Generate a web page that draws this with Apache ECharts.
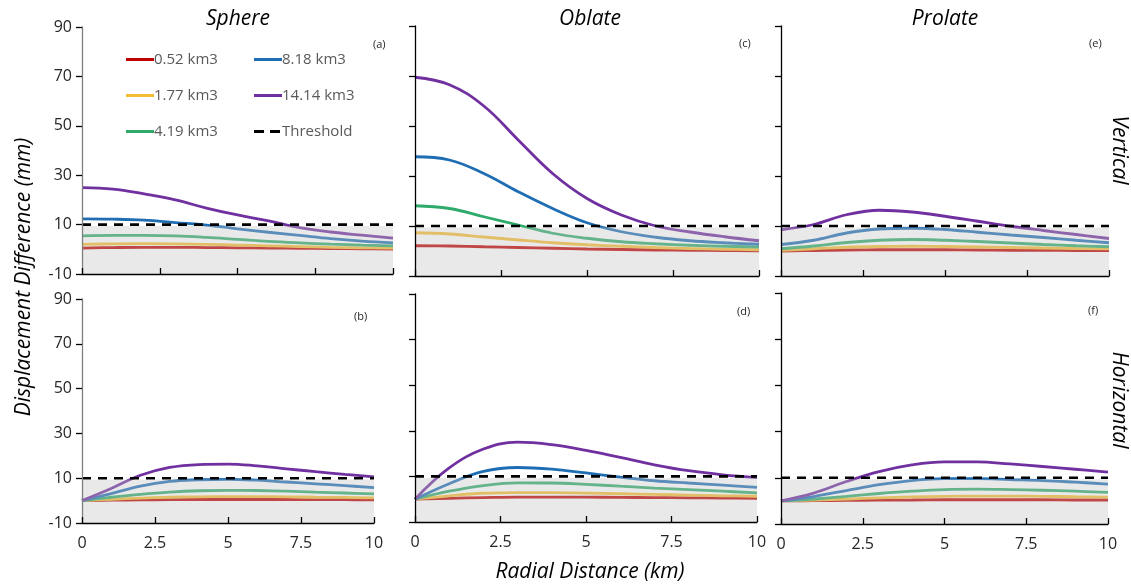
<!DOCTYPE html>
<html>
<head>
<meta charset="utf-8">
<script src="https://cdn.jsdelivr.net/npm/echarts@6/dist/echarts.min.js"></script>
<style>
  html, body { margin: 0; padding: 0; background: #fff; }
  #chart { width: 1131px; height: 586px; }
</style>
</head>
<body>
<div id="chart"></div>
<script>
// radial distance (km)
const xs = [0, 1, 2, 3, 4, 5, 6, 7, 8, 9, 10]
const volumes = ['0.52 km3', '1.77 km3', '4.19 km3', '8.18 km3', '14.14 km3']
const colors = ['#C00000', '#F4BE32', '#2EAA6A', '#1F6EB4', '#7030A0']
const threshold = 10

// one row per volume, same order as volumes
const sphereVertical = [
  [0.5, 0.7, 0.8, 0.8, 0.7, 0.6, 0.5, 0.4, 0.3, 0.2, 0.1],
  [2.0, 2.2, 2.3, 2.2, 2.0, 1.7, 1.4, 1.1, 0.8, 0.6, 0.5],
  [5.4, 5.6, 5.6, 5.4, 4.8, 4.0, 3.2, 2.6, 2.1, 1.7, 1.4],
  [12.3, 12.2, 11.8, 10.8, 9.8, 8.3, 6.9, 5.6, 4.3, 3.3, 2.6],
  [25, 24.4, 22.4, 20, 16.7, 13.9, 11.5, 8.8, 7, 5.7, 4.5]
]
const oblateVertical = [
  [2.1, 2.0, 1.7, 1.4, 1.1, 0.8, 0.6, 0.4, 0.3, 0.2, 0.1],
  [7.3, 6.8, 5.6, 4.4, 3.3, 2.5, 1.9, 1.4, 1.0, 0.7, 0.5],
  [18.1, 17, 13.7, 10.4, 7.1, 5.1, 3.7, 2.9, 2.3, 1.9, 1.6],
  [37.7, 36.4, 31, 23.7, 17, 11.3, 7.7, 5.5, 4.1, 3.3, 2.7],
  [69.5, 66.5, 58, 44.4, 31, 21, 14.4, 10, 7.6, 5.7, 4.1]
]
const prolateVertical = [
  [0, 0.2, 0.4, 0.5, 0.5, 0.5, 0.4, 0.3, 0.3, 0.2, 0.2],
  [0.3, 0.9, 1.5, 1.8, 1.9, 1.8, 1.6, 1.4, 1.2, 1.0, 0.9],
  [0.9, 2, 3.4, 4.3, 4.6, 4.3, 3.8, 3.2, 2.6, 2.1, 1.7],
  [2.6, 4.3, 7.2, 8.8, 9.1, 8.6, 7.5, 6.4, 5.4, 4.3, 3.3],
  [8.5, 10.6, 14.5, 16.3, 15.6, 13.9, 11.9, 9.9, 8.2, 6.6, 5]
]
const sphereHorizontal = [
  [0, 0.2, 0.3, 0.4, 0.5, 0.5, 0.5, 0.5, 0.4, 0.4, 0.3],
  [0, 0.6, 1.1, 1.5, 1.7, 1.8, 1.8, 1.7, 1.5, 1.4, 1.2],
  [0, 1.5, 2.8, 3.8, 4.4, 4.6, 4.5, 4.2, 3.8, 3.4, 3],
  [0, 3.1, 6.5, 8.6, 9.3, 9.5, 9.1, 8.3, 7.5, 6.7, 5.8],
  [0, 5.4, 11.3, 14.8, 16.1, 16.3, 15.5, 14.2, 12.9, 11.7, 10.6]
]
const oblateHorizontal = [
  [0, 0.4, 0.7, 0.9, 0.9, 0.9, 0.8, 0.7, 0.6, 0.5, 0.4],
  [0, 1.5, 2.6, 2.9, 2.9, 2.7, 2.4, 2.1, 1.8, 1.5, 1.3],
  [0, 3.5, 6, 7.2, 7.1, 6.5, 5.7, 4.9, 4.2, 3.5, 2.8],
  [0, 6.8, 12.2, 13.9, 13.2, 11.5, 9.7, 8.1, 7.1, 6.2, 5.2],
  [0, 13.7, 22, 25, 23.9, 21.4, 18.3, 15.1, 12.5, 10.7, 9.5]
]
const prolateHorizontal = [
  [0, 0.1, 0.2, 0.3, 0.4, 0.5, 0.5, 0.5, 0.5, 0.4, 0.4],
  [0, 0.3, 0.8, 1.3, 1.7, 2, 2.1, 2.1, 2, 1.8, 1.6],
  [0, 0.8, 2, 3.2, 4.2, 4.9, 5.1, 4.9, 4.6, 4.2, 3.7],
  [0, 1.9, 4.5, 7, 8.8, 9.6, 9.6, 9.2, 8.8, 8.1, 7.3],
  [0, 3.4, 8.4, 12.7, 15.6, 16.9, 16.9, 16, 14.9, 13.7, 12.5]
]

const panels = [
  { data: sphereVertical, tag: '(a)', grid: { left: 82, top: 27, width: 311, height: 247 }, yLabels: true, xLabels: false, yColor: '#7f7f7f' },
  { data: oblateVertical, tag: '(c)', grid: { left: 415, top: 26, width: 344, height: 250 }, yLabels: false, xLabels: false, yColor: '#000' },
  { data: prolateVertical, tag: '(e)', grid: { left: 781, top: 26, width: 328, height: 250 }, yLabels: false, xLabels: false, yColor: '#000' },
  { data: sphereHorizontal, tag: '(b)', grid: { left: 82, top: 299, width: 292, height: 224 }, yLabels: true, xLabels: true, yColor: '#7f7f7f' },
  { data: oblateHorizontal, tag: '(d)', grid: { left: 415, top: 294, width: 342, height: 228 }, yLabels: false, xLabels: true, yColor: '#000' },
  { data: prolateHorizontal, tag: '(f)', grid: { left: 781, top: 293, width: 327, height: 231 }, yLabels: false, xLabels: true, yColor: '#000' }
]

const font = '"Open Sans", "Noto Sans", sans-serif'

const chart = echarts.init(document.getElementById('chart'))

const grids = []
const xAxes = []
const yAxes = []
const series = []
const graphics = []

panels.forEach((p, i) => {
  grids.push(Object.assign({ containLabel: false }, p.grid))
  xAxes.push({
    type: 'value', gridIndex: i, min: 0, max: 10, interval: 2.5, z: 6,
    splitLine: { show: false },
    axisLine: { onZero: false, lineStyle: { color: '#000', width: 1.3 } },
    axisTick: { inside: true, length: 6, lineStyle: { color: '#000', width: 1.3 } },
    axisLabel: { show: p.xLabels, fontSize: 16, color: '#262626', fontFamily: font, margin: 12,
      formatter: v => String(v) }
  })
  yAxes.push({
    type: 'value', gridIndex: i, min: -10, max: 90, interval: 20, z: 6,
    splitLine: { show: false },
    axisLine: { show: true, onZero: false, lineStyle: { color: p.yColor, width: 1.3 } },
    axisTick: { show: true, length: 6, lineStyle: { color: '#000', width: 1.3 } },
    axisLabel: { show: p.yLabels, fontSize: 16, color: '#262626', fontFamily: font, margin: 10 }
  })

  p.data.forEach((vals, j) => {
    series.push({
      name: volumes[j], type: 'line', xAxisIndex: i, yAxisIndex: i,
      smooth: 0.4, symbol: 'none', z: 2,
      lineStyle: { color: colors[j], width: 2.8 },
      itemStyle: { color: colors[j] },
      data: xs.map((x, k) => [x, vals[k]])
    })
  })

  // grey shading below the threshold, drawn over the lines
  series.push({
    name: 'shade', type: 'line', xAxisIndex: i, yAxisIndex: i,
    symbol: 'none', z: 3, silent: true,
    lineStyle: { width: 0 },
    areaStyle: { color: 'rgba(195,195,195,0.52)', origin: 'start' },
    data: [[0, threshold - 0.6], [10, threshold - 0.6]]
  })

  series.push({
    name: 'Threshold', type: 'line', xAxisIndex: i, yAxisIndex: i,
    symbol: 'none', z: 4,
    lineStyle: { color: '#000', width: 2.6, type: [9, 7] },
    itemStyle: { color: '#000' },
    data: [[0, threshold], [10, threshold]]
  })

  const g = p.grid
  graphics.push({
    type: 'text', left: g.left + g.width - 20, top: g.top + 12,
    style: { text: p.tag, font: '11px ' + font, fill: '#262626' }
  })
})

const solidIcon = 'path://M0,0h28v3h-28z'
const dashIcon = 'path://M0,0h10v3h-10z M16,0h10v3h-10z M28,0h0v3h0z'

const legendCommon = {
  orient: 'vertical', itemWidth: 28, itemHeight: 3, itemGap: 21,
  textStyle: { fontSize: 15, color: '#595959', fontFamily: font, padding: [0, 0, 0, -5] }
}

const titles = [['Sphere', 238], ['Oblate', 590], ['Prolate', 945]]
titles.forEach(([t, x]) => {
  graphics.push({
    type: 'text', x: x, y: 19,
    style: { text: t, font: 'italic 21px ' + font, fill: '#000', align: 'center', verticalAlign: 'middle' }
  })
})
graphics.push({
  type: 'text', x: 590, y: 572,
  style: { text: 'Radial Distance (km)', font: 'italic 21px ' + font, fill: '#000', align: 'center', verticalAlign: 'middle' }
})
graphics.push({
  type: 'text', x: 24, y: 277, rotation: Math.PI / 2,
  style: { text: 'Displacement Difference (mm)', font: 'italic 21px ' + font, fill: '#000', align: 'center', verticalAlign: 'middle' }
})
graphics.push({
  type: 'text', x: 1119, y: 150, rotation: -Math.PI / 2,
  style: { text: 'Vertical', font: 'italic 21px ' + font, fill: '#000', align: 'center', verticalAlign: 'middle' }
})
graphics.push({
  type: 'text', x: 1119, y: 400, rotation: -Math.PI / 2,
  style: { text: 'Horizontal', font: 'italic 21px ' + font, fill: '#000', align: 'center', verticalAlign: 'middle' }
})

chart.setOption({
  animation: false,
  backgroundColor: '#fff',
  grid: grids,
  xAxis: xAxes,
  yAxis: yAxes,
  legend: [
    Object.assign({ left: 121, top: 47, data: volumes.slice(0, 3).map(n => ({ name: n, icon: solidIcon })) }, legendCommon),
    Object.assign({ left: 249, top: 47, data: [
      { name: volumes[3], icon: solidIcon },
      { name: volumes[4], icon: solidIcon },
      { name: 'Threshold', icon: dashIcon }
    ] }, legendCommon)
  ],
  graphic: graphics,
  series
})
</script>
</body>
</html>
